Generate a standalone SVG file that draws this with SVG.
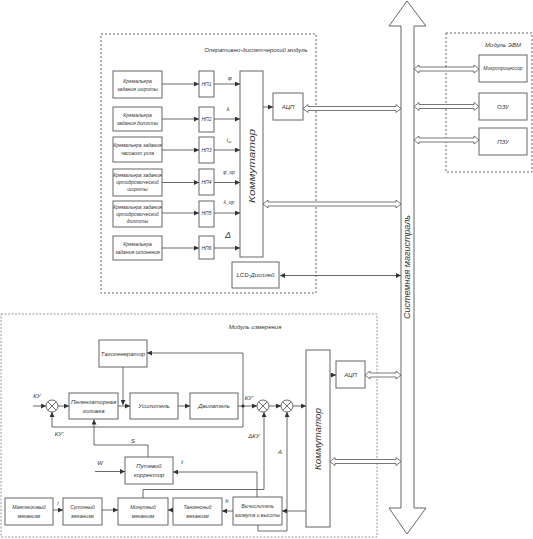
<svg xmlns="http://www.w3.org/2000/svg" width="533" height="539" viewBox="0 0 533 539">
<defs>
<marker id="a" viewBox="0 0 6 6" refX="6" refY="3" markerWidth="5" markerHeight="5" markerUnits="userSpaceOnUse" orient="auto-start-reverse"><path d="M0,0 L6,3 L0,6 z" fill="#333"/></marker>
<style>
.t{font-family:"Liberation Sans","DejaVu Sans",sans-serif;font-style:italic;fill:#333;text-anchor:middle}
.s5{font-size:5px}.s6{font-size:6px}.s7{font-size:7px}
.b{fill:#fff;stroke:#666;stroke-width:1}
.d{fill:none;stroke:#555;stroke-width:0.9;stroke-dasharray:2,2}
.d2{fill:none;stroke:#999;stroke-width:1;stroke-dasharray:2,1.5}
.l{fill:none;stroke:#444;stroke-width:0.8}
.la{fill:none;stroke:#444;stroke-width:0.8;marker-end:url(#a)}
.lb{fill:none;stroke:#444;stroke-width:0.8;marker-end:url(#a);marker-start:url(#a)}
.da{fill:#fff;stroke:#555;stroke-width:0.8}
.c{fill:#fff;stroke:#444;stroke-width:0.8}
</style>
</defs>
<rect width="533" height="539" fill="#fff"/>

<!-- modules -->
<g id="mod-oper">
<rect class="d" x="101" y="34" width="215" height="259"/>
<text class="t s6" x="256" y="52">Оперативно-диспетчерский модуль</text>
</g>
<g id="mod-evm">
<rect class="d" x="446" y="33" width="86" height="139"/>
<text class="t s6" x="503" y="47">Модуль ЭВМ</text>
</g>
<g id="mod-izm">
<rect class="d2" x="1" y="314" width="376" height="223"/>
<text class="t s6" x="255" y="329">Модуль измерения</text>
</g>

<!-- bus -->
<g id="bus">
<polygon points="407,1 426,26 414,26 414,508 426,508 407,534 389,508 401,508 401,26 389,26" fill="#fff" stroke="#666" stroke-width="1"/>
<text class="t" style="font-size:9px" transform="translate(410,267) rotate(-90)">Системная магистраль</text>
</g>

<!-- top module nodes -->
<g id="krem1"><rect class="b" x="113" y="71" width="49" height="27"/><text class="t s5" x="137.5" y="83">Кремальера</text><text class="t s5" x="137.5" y="91">задания широты</text></g>
<g id="krem2"><rect class="b" x="113" y="107" width="49" height="24"/><text class="t s5" x="137.5" y="117">Кремальера</text><text class="t s5" x="137.5" y="125">задания долготы</text></g>
<g id="krem3"><rect class="b" x="113" y="137" width="49" height="25"/><text class="t s5" x="137.5" y="147">Кремальера задания</text><text class="t s5" x="137.5" y="155">часового угла</text></g>
<g id="krem4"><rect class="b" x="113" y="169" width="49" height="27"/><text class="t s5" x="137.5" y="177">Кремальера задания</text><text class="t s5" x="137.5" y="184">ортодромической</text><text class="t s5" x="137.5" y="191">широты</text></g>
<g id="krem5"><rect class="b" x="113" y="201" width="49" height="26"/><text class="t s5" x="137.5" y="209">Кремальера задания</text><text class="t s5" x="137.5" y="216">ортодромической</text><text class="t s5" x="137.5" y="223">долготы</text></g>
<g id="krem6"><rect class="b" x="113" y="236" width="49" height="24"/><text class="t s5" x="137.5" y="246">Кремальера</text><text class="t s5" x="137.5" y="254">задания склонения</text></g>

<g id="np1"><rect class="b" x="199" y="71" width="15" height="26"/><text class="t s5" x="206.5" y="86">НП1</text></g>
<g id="np2"><rect class="b" x="199" y="107" width="15" height="25"/><text class="t s5" x="206.5" y="121">НП2</text></g>
<g id="np3"><rect class="b" x="199" y="137" width="15" height="26"/><text class="t s5" x="206.5" y="152">НП3</text></g>
<g id="np4"><rect class="b" x="199" y="169" width="15" height="26"/><text class="t s5" x="206.5" y="184">НП4</text></g>
<g id="np5"><rect class="b" x="199" y="201" width="15" height="26"/><text class="t s5" x="206.5" y="215">НП5</text></g>
<g id="np6"><rect class="b" x="199" y="236" width="15" height="23"/><text class="t s5" x="206.5" y="250">НП6</text></g>

<g id="komm1"><rect class="b" x="240" y="71" width="23" height="186"/><text class="t" style="font-size:9px" textLength="74" lengthAdjust="spacingAndGlyphs" transform="translate(255,166) rotate(-90)">Коммутатор</text></g>
<g id="adc1"><rect class="b" x="273" y="93" width="30" height="27"/><text class="t s6" x="288" y="109">АЦП</text></g>
<g id="lcd"><rect class="b" x="232" y="262" width="47" height="26"/><text class="t s6" x="255.5" y="277">LCD-Дисплей</text></g>

<g id="cpu"><rect class="b" x="479" y="55" width="48" height="27"/><text class="t s5" x="503" y="70">Микропроцессор</text></g>
<g id="ozu"><rect class="b" x="479" y="93" width="48" height="27"/><text class="t s6" x="503" y="109">ОЗУ</text></g>
<g id="pzu"><rect class="b" x="479" y="128" width="48" height="27"/><text class="t s6" x="503" y="144">ПЗУ</text></g>

<!-- bottom module nodes -->
<g id="tacho"><rect class="b" x="99" y="340" width="48" height="27"/><text class="t s6" x="123" y="356">Тахогенератор</text></g>
<g id="peleng"><rect class="b" x="69" y="393" width="49" height="26"/><text class="t s6" x="93.5" y="404">Пеленгаторная</text><text class="t s6" x="93.5" y="413">головка</text></g>
<g id="amp"><rect class="b" x="130" y="393" width="48" height="26"/><text class="t s6" x="154" y="408">Усилитель</text></g>
<g id="motor"><rect class="b" x="190" y="393" width="48" height="26"/><text class="t s6" x="214" y="408">Двигатель</text></g>
<g id="sum1"><circle class="c" cx="52" cy="406" r="6"/><path class="l" d="M47.8,401.8 L56.2,410.2 M56.2,401.8 L47.8,410.2"/></g>
<g id="sum2"><circle class="c" cx="263" cy="406" r="6"/><path class="l" d="M258.8,401.8 L267.2,410.2 M267.2,401.8 L258.8,410.2"/></g>
<g id="sum3"><circle class="c" cx="287" cy="406" r="6"/><path class="l" d="M282.8,401.8 L291.2,410.2 M291.2,401.8 L282.8,410.2"/></g>
<g id="komm2"><rect class="b" x="306" y="350" width="24" height="177"/><text class="t" style="font-size:9px" textLength="62" lengthAdjust="spacingAndGlyphs" transform="translate(321,439) rotate(-90)">Коммутатор</text></g>
<g id="adc2"><rect class="b" x="336" y="361" width="29" height="27"/><text class="t s6" x="350.5" y="377">АЦП</text></g>
<g id="putkor"><rect class="b" x="125" y="457" width="48" height="27"/><text class="t s6" x="149" y="468">Путевой</text><text class="t s6" x="149" y="477">корректор</text></g>
<g id="mayat"><rect class="b" x="5" y="498" width="48" height="27"/><text class="t s5" x="29" y="509">Маятниковый</text><text class="t s5" x="29" y="518">механизм</text></g>
<g id="sutoch"><rect class="b" x="63" y="498" width="39" height="27"/><text class="t s5" x="82.5" y="509">Суточный</text><text class="t s5" x="82.5" y="518">механизм</text></g>
<g id="minut"><rect class="b" x="118" y="498" width="50" height="27"/><text class="t s5" x="143" y="509">Минутный</text><text class="t s5" x="143" y="518">механизм</text></g>
<g id="tang"><rect class="b" x="173" y="498" width="49" height="27"/><text class="t s5" x="197.5" y="509">Тангенсный</text><text class="t s5" x="197.5" y="518">механизм</text></g>
<g id="vych"><rect class="b" x="233" y="497" width="49" height="28"/><text class="t s5" x="257.5" y="508">Вычислитель</text><text class="t s5" x="257.5" y="517" textLength="45" lengthAdjust="spacingAndGlyphs">азимута и высоты</text></g>

<!-- connectors -->
<g id="connectors">
<line class="la" x1="162" y1="84" x2="199" y2="84"/>
<line class="la" x1="162" y1="119" x2="199" y2="119"/>
<line class="la" x1="162" y1="150" x2="199" y2="150"/>
<line class="la" x1="162" y1="182.5" x2="199" y2="182.5"/>
<line class="la" x1="162" y1="213" x2="199" y2="213"/>
<line class="la" x1="162" y1="248" x2="199" y2="248"/>
<line class="la" x1="214" y1="84" x2="240" y2="84"/>
<line class="la" x1="214" y1="119" x2="240" y2="119"/>
<line class="la" x1="214" y1="150" x2="240" y2="150"/>
<line class="la" x1="214" y1="182.5" x2="240" y2="182.5"/>
<line class="la" x1="214" y1="213" x2="240" y2="213"/>
<line class="la" x1="214" y1="248" x2="240" y2="248"/>
<text class="t s6" x="230" y="80">φ</text>
<text class="t s6" x="228" y="111">λ</text>
<text class="t s5" x="229" y="142">t<tspan style="font-size:4px" dy="1">ω</tspan></text>
<text class="t s5" x="229" y="174">φ_ор</text>
<text class="t s5" x="229" y="204">λ_ор</text>
<text class="t" style="font-size:9px" x="228" y="238">Δ</text>
<line class="la" x1="263" y1="107" x2="273" y2="107"/>
<polygon class="da" points="303,108.5 308,104.5 308,106.5 396,106.5 396,104.5 401,108.5 396,112.5 396,110.5 308,110.5 308,112.5"/>
<polygon class="da" points="263,204 268,200 268,202 396,202 396,200 401,204 396,208 396,206 268,206 268,208"/>
<line class="lb" x1="280" y1="275.5" x2="401" y2="275.5"/>
<polygon class="da" points="414,69 419,65 419,67 474,67 474,65 479,69 474,73 474,71 419,71 419,73" fill="#eee"/>
<polygon class="da" points="414,106.5 419,102.5 419,104.5 474,104.5 474,102.5 479,106.5 474,110.5 474,108.5 419,108.5 419,110.5"/>
<polygon class="da" points="414,140 419,136 419,138 474,138 474,136 479,140 474,144 474,142 419,142 419,144"/>

<line class="la" x1="33" y1="406" x2="46" y2="406"/>
<text class="t s6" x="37" y="398">КУ</text>
<line class="la" x1="58" y1="406" x2="69" y2="406"/>
<line class="la" x1="118" y1="406" x2="130" y2="406"/>
<line class="la" x1="123" y1="367" x2="123" y2="405"/>
<line class="la" x1="178" y1="406" x2="190" y2="406"/>
<line class="l" x1="238" y1="406" x2="243" y2="406"/>
<circle cx="243" cy="406" r="1.6" fill="#222"/>
<path class="la" d="M243,406 L243,427 L52,427 L52,412"/>
<text class="t s6" x="59" y="436">КУ'</text>
<path class="la" d="M243,406 L243,353 L147,353"/>
<line class="la" x1="243" y1="406" x2="257" y2="406"/>
<text class="t s6" x="249" y="400">КУ'</text>
<line class="la" x1="269" y1="406" x2="281" y2="406"/>
<line class="la" x1="293" y1="406" x2="306" y2="406"/>
<line class="la" x1="330" y1="375" x2="336" y2="375"/>
<polygon class="da" points="365,375 370,371 370,373 396,373 396,371 401,375 396,379 396,377 370,377 370,379"/>
<polygon class="da" points="330,461.5 335,457.5 335,459.5 396,459.5 396,457.5 401,461.5 396,465.5 396,463.5 335,463.5 335,465.5"/>
<line class="la" x1="95" y1="471.5" x2="125" y2="471.5"/>
<text class="t s6" x="100" y="465">W</text>
<path class="la" d="M148,457 L148,445 L94,445 L94,419.5"/>
<text class="t s6" x="133" y="443">S</text>
<path class="la" d="M257,497 L257,472 L173,472"/>
<text class="t s6" x="182" y="464">t</text>
<path class="la" d="M143,498 L143,489.5 L264,489.5 L264,412"/>
<text class="t s6" x="254" y="438">ΔКУ</text>
<path class="la" d="M258,525 L258,531 L287,531 L287,412"/>
<text class="t s6" x="280" y="454">A</text>
<line class="la" x1="53" y1="510" x2="63" y2="510"/>
<text class="t s6" x="58" y="505">i</text>
<line class="la" x1="102" y1="510" x2="118" y2="510"/>
<line class="la" x1="173" y1="510" x2="168" y2="510"/>
<line class="la" x1="233" y1="511" x2="222" y2="511"/>
<text class="t s6" x="227" y="503">h</text>
<line class="la" x1="306" y1="511" x2="282" y2="511"/>
</g>
</svg>
